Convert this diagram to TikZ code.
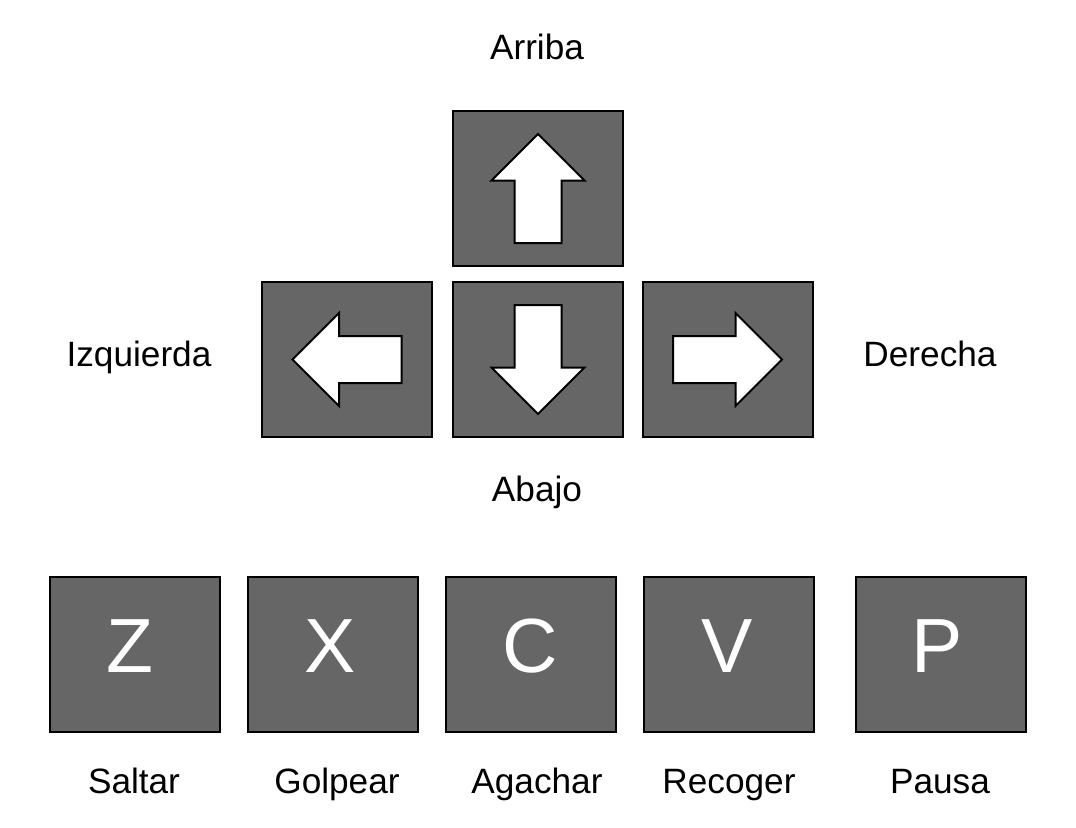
\documentclass[tikz,border=0pt]{standalone}
\usepackage{fontspec}
\setmainfont{Liberation Sans}
\definecolor{keygray}{HTML}{666666}
\begin{document}
\begin{tikzpicture}[x=0.75pt,y=-0.75pt,
  keybox/.style={draw=black,line width=1.5pt,fill=keygray,minimum width=127.5pt,minimum height=116.25pt,inner sep=0pt,text=white,font=\fontsize{57.6}{60}\selectfont},
  lbl/.style={anchor=base,inner sep=0pt,font=\fontsize{26.4}{30}\selectfont,text=black},
  keyletter/.style={anchor=base,inner sep=0pt,text=white,font=\fontsize{57.6}{60}\selectfont},
  arrowshape/.style={draw=black,line width=1.5pt,fill=white,line join=miter}]
\useasboundingbox (0,0) rectangle (1076,828);
% arrow keys
\node[keybox] (up) at (538,188.5) {};
\node[keybox] (left) at (347,359.5) {};
\node[keybox] (down) at (538,359.5) {};
\node[keybox] (right) at (727.5,359.5) {};
\newcommand{\keyarrow}[2]{%
  \begin{scope}[shift={(#1)},rotate=#2]
    \draw[arrowshape] (0,-54.5) -- (46.5,-8) -- (23.5,-8) -- (23.5,54.5) -- (-23.5,54.5) -- (-23.5,-8) -- (-46.5,-8) -- cycle;
  \end{scope}}
\keyarrow{up.center}{0}
\keyarrow{down.center}{180}
\keyarrow{left.center}{90}
\keyarrow{right.center}{-90}
% labels for arrows
\node[lbl] (larriba) at (537,60) {Arriba};
\node[lbl] (lizq) at (139,366) {Izquierda};
\node[lbl] (lder) at (930,366) {Derecha};
\node[lbl] (labajo) at (537,501) {Abajo};
% letter keys
\node[keybox] (kz) at (134.5,654.5) {};
\node[keybox] (kx) at (333,654.5) {};
\node[keybox] (kc) at (531,654.5) {};
\node[keybox] (kv) at (729,654.5) {};
\node[keybox] (kp) at (940.5,654.5) {};
\node[keyletter] (tz) at (130,672) {Z};
\node[keyletter] (tx) at (330,672) {X};
\node[keyletter] (tc) at (530,672) {C};
\node[keyletter] (tv) at (727,672) {V};
\node[keyletter] (tp) at (937,672) {P};
% action labels
\node[lbl] (lsaltar) at (134,793) {Saltar};
\node[lbl] (lgolpear) at (337,793) {Golpear};
\node[lbl] (lagachar) at (537,793) {Agachar};
\node[lbl] (lrecoger) at (729,793) {Recoger};
\node[lbl] (lpausa) at (940,793) {Pausa};
\end{tikzpicture}
\end{document}
